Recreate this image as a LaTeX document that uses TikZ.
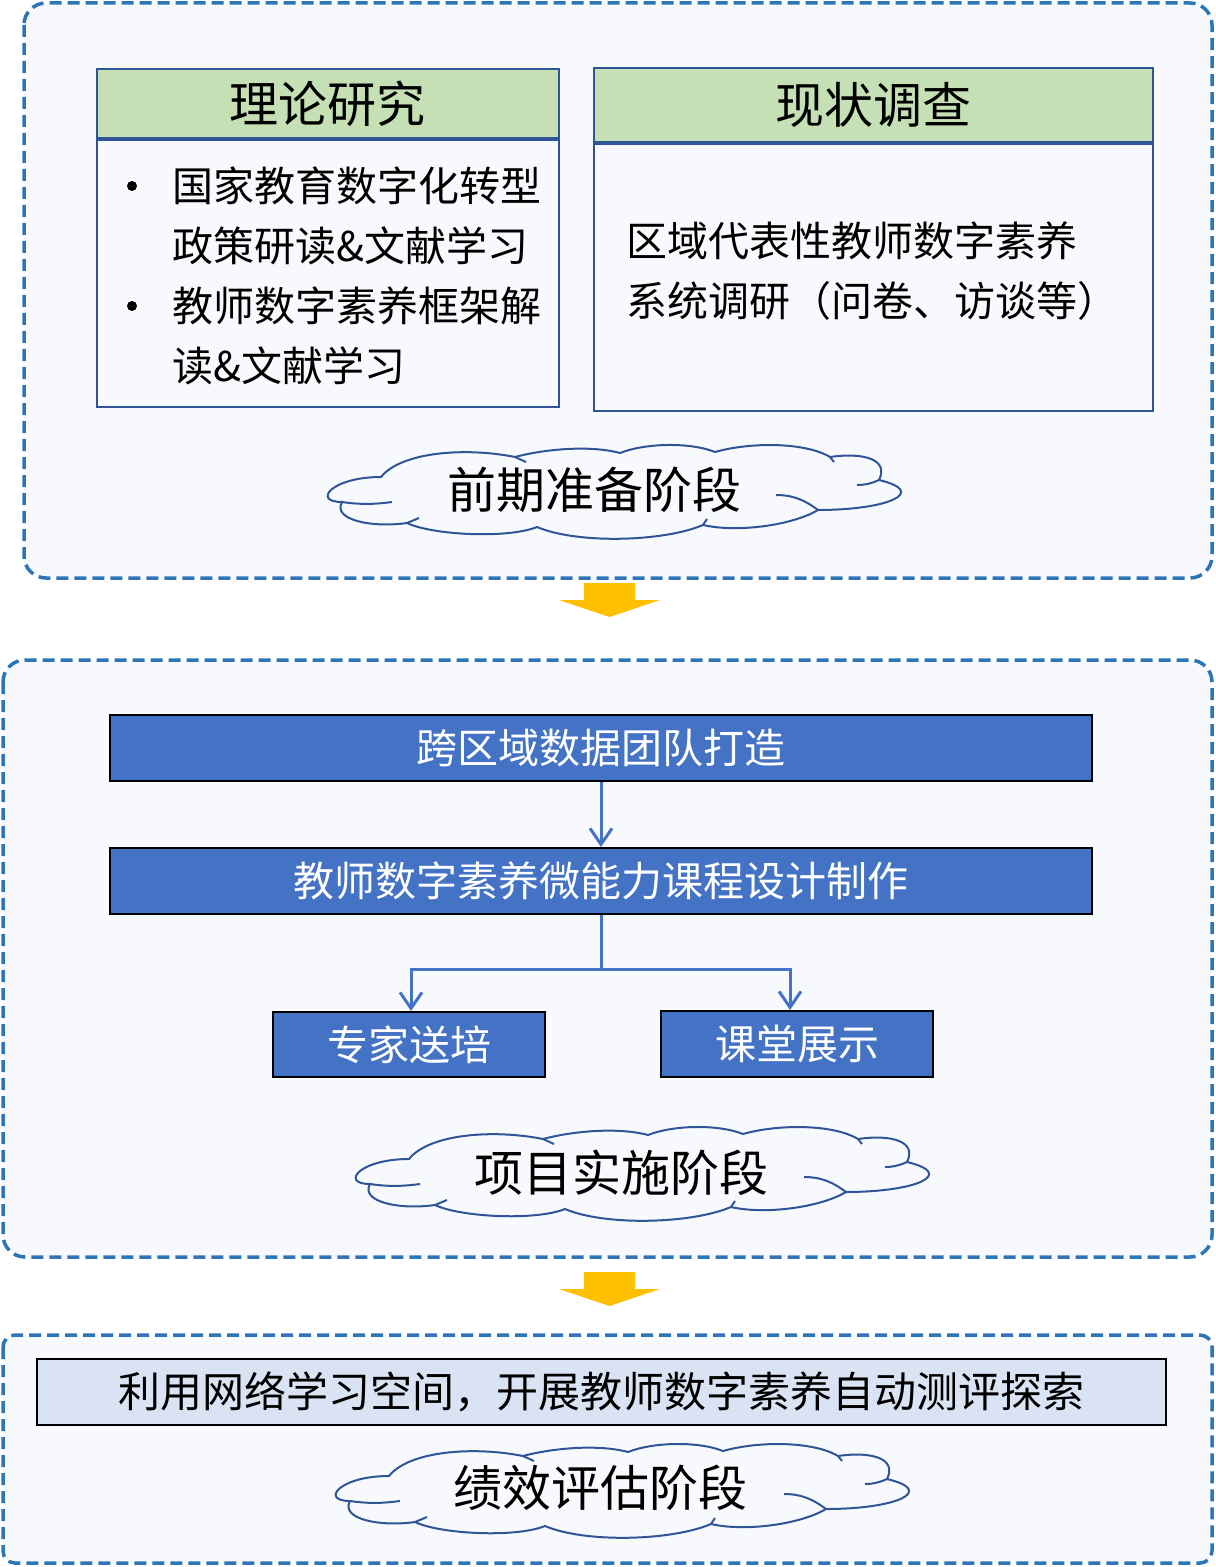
\documentclass[tikz,border=0pt]{standalone}
\usepackage{fontspec}
\setmainfont{Noto Sans CJK SC}
\usepackage{tikz}
\usetikzlibrary{calc, arrows.meta}
\definecolor{dashblue}{HTML}{2E75B6}
\definecolor{lineblue}{HTML}{2F5597}
\definecolor{flowblue}{HTML}{4472C4}
\definecolor{headgreen}{HTML}{C5E0B4}
\definecolor{panelfill}{HTML}{F8F9FD}
\definecolor{planfill}{HTML}{DAE3F3}
\definecolor{arrowgold}{HTML}{FFC000}
\tikzset{
  phasebox/.style={draw=dashblue, fill=panelfill, line width=1.75pt, dash pattern=on 6pt off 3pt},
  headbox/.style={draw=lineblue, fill=headgreen, line width=0.9pt, inner sep=0pt, font=\fontsize{24.5pt}{29pt}\selectfont},
  bodybox/.style={draw=lineblue, fill=panelfill, line width=0.9pt, inner sep=0pt},
  listtext/.style={align=left, inner sep=0pt, font=\fontsize{20.5pt}{30pt}\selectfont},
  dotmark/.style={circle, fill=black, minimum size=5pt, inner sep=0pt},
  flowbox/.style={draw=black, fill=flowblue, text=white, line width=1pt, inner sep=0pt, font=\fontsize{20.5pt}{25pt}\selectfont},
  planbox/.style={draw=black, fill=planfill, line width=1pt, inner sep=0pt, font=\fontsize{21pt}{26pt}\selectfont},
  flowline/.style={draw=flowblue, line width=1.5pt, -{Straight Barb[length=8pt,width=11pt]}},
  cloudline/.style={draw=lineblue, line width=1pt},
  cloudtext/.style={inner sep=0pt, font=\fontsize{24.5pt}{29pt}\selectfont},
  goldarrow/.style={fill=arrowgold},
  phasecloud/.pic={
    \begin{scope}[yscale=-1]
      \draw[cloudline, fill=panelfill] (-231,15)
        .. controls (-281,15) and (-300,-10) .. (-270,-10)
        .. controls (-280,-28) and (-240,-36) .. (-205,-31)
        .. controls (-180,-43) and (-105,-47) .. (-75,-35)
        .. controls (-35,-52) and (51,-50) .. (91,-33)
        .. controls (126,-41) and (181,-33) .. (206,-18)
        .. controls (276,-18) and (317,0) .. (267,12)
        .. controls (277,32) and (253,40) .. (218,35)
        .. controls (193,50) and (138,50) .. (103,40)
        .. controls (78,50) and (33,49) .. (8,39)
        .. controls (-22,47) and (-67,43) .. (-97,35)
        .. controls (-147,45) and (-211,40) .. (-231,15) -- cycle;
      \draw[cloudline] (-270,-10) .. controls (-250,-13) and (-235,-12) .. (-220,-10);
      \draw[cloudline] (-205,-31) -- (-193,-26);
      \draw[cloudline] (91,-33) -- (95,-27);
      \draw[cloudline] (206,-18) .. controls (190,-6) and (178,-3) .. (164,-3);
      \draw[cloudline] (267,12) .. controls (258,8) and (252,7) .. (245,7);
      \draw[cloudline] (218,35) -- (222,30);
      \draw[cloudline] (-97,35) -- (-86,30);
    \end{scope}
  }
}
\begin{document}
\begin{tikzpicture}[x=0.5pt, y=-0.5pt]
            \useasboundingbox (0,0) rectangle (1215,1567);

            \draw[phasebox, rounded corners=11pt] (24,3) rectangle (1212,578);
            \draw[phasebox, rounded corners=11pt] (3,660) rectangle (1212,1257);
            \draw[phasebox, rounded corners=6pt] (3,1335) rectangle (1212,1563);

            \foreach \ytop in {583,1272}
              \fill[goldarrow] (584,\ytop) -- (635,\ytop) -- (635,\ytop+17) -- (660,\ytop+17) -- (609.5,\ytop+34) -- (559,\ytop+17) -- (584,\ytop+17) -- cycle;

            \node (theoryHead) at (96,68) [headbox, anchor=north west, minimum width=231pt, minimum height=34.5pt] {理论研究};
            \node (theoryBody) at (theoryHead.south) [bodybox, anchor=north, minimum width=231pt, minimum height=133.5pt] {};
            \node (dotA) at (132,186) [dotmark] {};
            \node (dotB) at (132,306) [dotmark] {};
            \node (itemA) at (172,216) [listtext, anchor=west] {国家教育数字化转型\\政策研读\&文献学习};
            \node (itemB) at (172,336) [listtext, anchor=west] {教师数字素养框架解\\读\&文献学习};

            \node (surveyHead) at (593,67) [headbox, anchor=north west, minimum width=279.5pt, minimum height=37pt] {现状调查};
            \node (surveyBody) at (surveyHead.south) [bodybox, anchor=north, minimum width=279.5pt, minimum height=133.5pt] {};
            \node (surveyText) at (626,271) [listtext, anchor=west] {区域代表性教师数字素养\\系统调研（问卷、访谈等）};

            \pic (prepCloud) at (612,492) {phasecloud};
            \node (prepText) at (594,490) [cloudtext] {前期准备阶段};

            \node (teamBox) at (601,748) [flowbox, minimum width=491pt, minimum height=33pt] {跨区域数据团队打造};
            \node (courseBox) at (601,881) [flowbox, minimum width=491pt, minimum height=33pt] {教师数字素养微能力课程设计制作};
            \node (expertBox) at (409,1044.5) [flowbox, minimum width=136pt, minimum height=32.5pt] {专家送培};
            \node (classBox) at (797,1044) [flowbox, minimum width=136pt, minimum height=33pt] {课堂展示};
            \draw[flowline] (teamBox) -- (courseBox);
            \draw[flowline] (courseBox.south) -- ++(0,54) -| ([xshift=1pt]expertBox.north);
            \draw[flowline] (courseBox.south) -- ++(0,54) -| ([xshift=-3.5pt]classBox.north);

            \pic (implCloud) at (640,1174) {phasecloud};
            \node (implText) at (621,1173) [cloudtext] {项目实施阶段};

            \node (planBox) at (601.5,1392) [planbox, minimum width=564.5pt, minimum height=33pt] {利用网络学习空间，开展教师数字素养自动测评探索};

            \pic (evalCloud) at (620,1491) {phasecloud};
            \node (evalText) at (600,1488) [cloudtext] {绩效评估阶段};
\end{tikzpicture}
\end{document}
